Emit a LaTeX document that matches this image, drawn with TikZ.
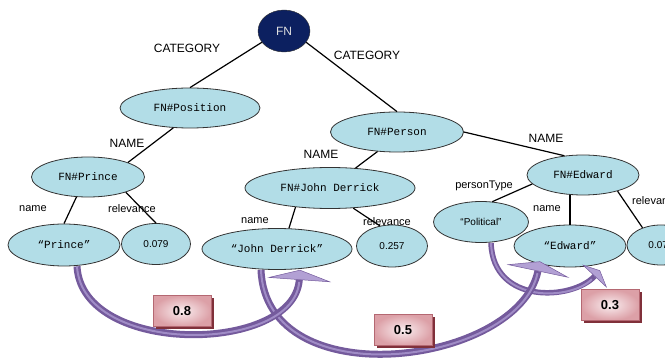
\documentclass[tikz,border=0pt]{standalone}
\usepackage{fontspec}
\setmainfont{Liberation Sans}
\setmonofont{Liberation Mono}
\usepackage{xcolor}
\usetikzlibrary{shapes.geometric, arrows.meta, shadows}
\definecolor{ellfill}{RGB}{178,221,231}
\definecolor{fnblue}{RGB}{12,32,96}
\definecolor{flowc}{RGB}{116,90,156}
\definecolor{flowhi}{RGB}{160,140,198}
\definecolor{flowtip}{RGB}{178,160,212}
\definecolor{boxin}{RGB}{250,238,240}
\definecolor{boxout}{RGB}{220,160,167}
\definecolor{boxedge}{RGB}{180,104,114}
\definecolor{boxshadow}{RGB}{128,48,58}

\begin{document}
\begin{tikzpicture}[x=1pt, y=-1pt,
    vertex/.style={ellipse, draw=black!80, fill=ellfill, line width=0.8pt, inner sep=0pt,
        font=\ttfamily\fontsize{11}{13}\selectfont},
    value/.style={vertex, font=\fontsize{10}{12}\selectfont},
    root/.style={ellipse, draw=black!80, fill=fnblue, text=white!88!black, inner sep=0pt,
        minimum width=52pt, minimum height=42pt, font=\fontsize{12}{14}\selectfont},
    link/.style={line width=1.2pt},
    biglabel/.style={inner sep=0pt, font=\fontsize{12}{14}\selectfont},
    elabel/.style={inner sep=0pt, font=\fontsize{11}{13}\selectfont},
    weight/.style={rectangle, draw=boxedge, inner color=boxin, outer color=boxout,
        minimum width=58pt, minimum height=31pt, font=\bfseries\fontsize{13}{15}\selectfont,
        drop shadow={fill=boxshadow, opacity=1, shadow xshift=3pt, shadow yshift=-3pt}},
    flow/.style={draw=flowc, line width=7pt,
        -{Triangle[width=64pt, length=10pt, fill=flowtip, line width=0.5pt]},
        postaction={draw=flowhi, line width=2pt, shorten >=12pt, -}}
    ]
    \clip (0,0) rectangle (665,358);

    % 顶点
    \node[root] (fn) at (284,31) {FN};
    \node[vertex, minimum width=140pt, minimum height=40pt] (position) at (190,108) {FN\#Position};
    \node[vertex, minimum width=133pt, minimum height=40pt] (person) at (397,132) {FN\#Person};
    \node[vertex, minimum width=113pt, minimum height=40pt] (prince) at (88,177) {FN\#Prince};
    \node[vertex, minimum width=170pt, minimum height=41pt] (johnd) at (330,188) {FN\#John Derrick};
    \node[vertex, minimum width=112pt, minimum height=40pt] (edward) at (583,175) {FN\#Edward};
    \node[vertex, minimum width=112pt, minimum height=42pt] (vprince) at (64,245) {“Prince”};
    \node[value, minimum width=69pt, minimum height=41pt] (rprince) at (156,244) {0.079};
    \node[vertex, minimum width=150pt, minimum height=41pt] (vjohnd) at (277,249) {“John Derrick”};
    \node[value, minimum width=71pt, minimum height=42pt] (rjohnd) at (392,246) {0.257};
    \node[value, minimum width=95pt, minimum height=41pt] (vpolit) at (481,222) {“Political”};
    \node[vertex, minimum width=112pt, minimum height=42pt] (vedward) at (570,246) {“Edward”};
    \node[value, minimum width=68pt, minimum height=40pt] (redward) at (661,245) {0.079};

    % 边
    \draw[link] (fn.207) -- (position.north);
    \draw[link] (fn.333) -- (person.north);
    \draw[link] (position.230) -- (prince.20);
    \draw[link] (person.225) -- (johnd.38);
    \draw[link] (person.east) -- (edward.134);
    \draw[link] (prince.240) -- (vprince.north);
    \draw[link] (prince.338) -- (rprince.north);
    \draw[link] (johnd.209) -- (vjohnd.60);
    \draw[link] (johnd.319) -- (rjohnd.121);
    \draw[link] (edward.190) -- (vpolit.61);
    \draw[link] (vedward.north) -- (vedward.north |- edward.south);
    \draw[link] (edward.335) -- (redward.137);

    % 边的标签
    \node[biglabel] (cat1) at (187,48) {CATEGORY};
    \node[biglabel] (cat2) at (367,55) {CATEGORY};
    \node[biglabel] (nm1) at (127,143) {NAME};
    \node[biglabel] (nm2) at (321,154) {NAME};
    \node[biglabel] (nm3) at (546,138) {NAME};
    \node[elabel] (name1) at (33,209) {name};
    \node[elabel] (rel1) at (132,209) {relevance};
    \node[elabel] (name2) at (255,221) {name};
    \node[elabel] (rel2) at (387,222) {relevance};
    \node[elabel] (ptype) at (484,186) {personType};
    \node[elabel] (name3) at (547,209) {name};
    \node[elabel, anchor=west] (rel3) at (632,201) {relevance};

    % 相似度箭头
    \draw[flow, line width=5.5pt, -{Triangle[width=34pt, length=8pt, fill=flowtip, line width=0.5pt]}]
        ([xshift=10pt]vpolit.south) .. controls +(2,62) and +(-28,30) .. ([xshift=30pt,yshift=-3pt]vedward.south);
    \draw[flow] ([xshift=-16pt]vjohnd.south) .. controls +(5,128) and +(-22,104) .. ([xshift=-30pt,yshift=6pt]vedward.south);
    \draw[flow] ([xshift=13pt]vprince.south) .. controls +(5,90) and +(-6,84) .. ([xshift=23pt]vjohnd.south);

    \node[weight] (w08) at (182,311) {0.8};
    \node[weight] (w05) at (403,330) {0.5};
    \node[weight] (w03) at (610,305) {0.3};

    \end{tikzpicture}
\end{document}
